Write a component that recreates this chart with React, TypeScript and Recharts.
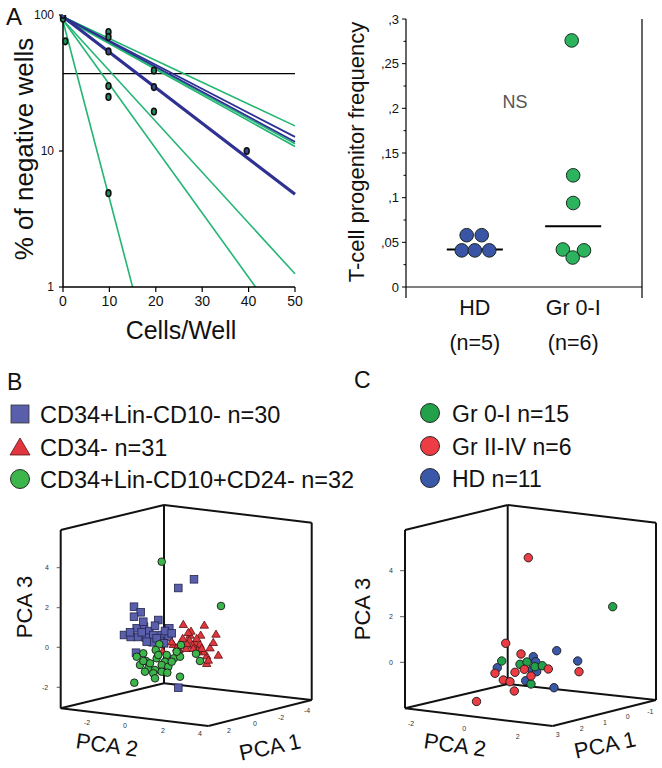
import { ComposedChart, Line, ReferenceLine, Scatter, XAxis, YAxis } from 'recharts';

const FONT = "'Liberation Sans', Arial, Helvetica, sans-serif";
const NARROW = "'Liberation Sans Narrow', 'Liberation Sans', Arial, sans-serif";

// ---- Panel A, limiting dilution (log scale) ----
const cellTicks = [0, 10, 20, 30, 40, 50];
const negTicks = [1, 10, 100];
const threshold = 37;
// fitted lines: [x0, y0, x1, y1]
const greenFits = [
  [0, 97, 50, 15.3],
  [0, 96, 50, 11.3],
  [0, 95, 50, 10.8],
  [0, 92, 50, 1.25],
  [0, 92, 41.5, 1],
  [0, 90, 15, 1],
];
const blueFits = [
  [0, 97, 50, 12.7],
  [0, 97, 50, 11.7],
];
const blueMainFit = [0, 97, 50, 4.8];
const greenWells = [[0, 97], [0, 94], [0.5, 64], [9.8, 75], [9.8, 69], [9.8, 30], [9.8, 25], [9.8, 4.9], [19.6, 39], [19.6, 19.5]];
const blueWells = [[0, 100], [9.8, 54], [19.6, 29.5], [39.6, 10]];

// ---- Panel A, progenitor frequency ----
const freqTicks = [0, 0.025, 0.05, 0.075, 0.1, 0.125, 0.15, 0.175, 0.2, 0.225, 0.25, 0.275, 0.3];
const groups = [
  { pos: 1, name: 'HD', n: '(n=5)' },
  { pos: 2, name: 'Gr 0-I', n: '(n=6)' },
];
const hdFreq = [0.041, 0.041, 0.041, 0.058, 0.058];
const hdJitter = [-0.133, 0, 0.147, -0.083, 0.07];
const grFreq = [0.276, 0.125, 0.094, 0.042, 0.041, 0.033];
const grJitter = [-0.015, 0, 0, -0.105, 0.11, -0.005];

// ---- Panel B, PCA (projected plane coordinates) ----
const boxB = { tl: [60.7, 530], tb: [164, 505], tr: [311.7, 522.7], bl: [60.7, 708.3], bb: [164, 683.3], br: [311.7, 700], fb: [208.3, 726] };
const pca3TicksB = [['4', 47, 567.7], ['2', 47, 607.7], ['0', 47, 647.3], ['-2', 45, 687.3]];
const pca2TicksB = [['-2', 87, 722], ['0', 125, 725.5], ['2', 163, 730], ['4', 200, 733.5]];
const pca1TicksB = [['2', 229, 730], ['0', 255, 723], ['-2', 281, 717], ['-4', 307, 710]];
const lin10Neg = [
  [194, 579.3], [178.3, 588], [134, 606.7], [140.7, 612.3], [134, 616.7], [158.3, 620], [136.7, 628.3], [144, 626.7],
  [149.3, 631], [169.3, 628.3], [124, 635], [130.7, 637], [138, 637], [146, 637.7], [153.3, 635], [161.7, 635],
  [168.7, 637], [160, 641], [152.7, 642.3], [136, 652.7], [178.3, 687.7], [165, 631], [141.7, 632.3], [130, 632.3],
  [156.7, 638.3], [146.7, 641.7], [164, 643.3], [171.7, 633.3], [143.3, 621.7], [155, 625.7],
];
const cd34Neg = [
  [183.3, 624.3], [204.3, 625], [216, 634], [190, 635], [200.7, 635], [173.3, 644.3], [181, 642.3], [189.3, 640],
  [195, 642.3], [200, 644.3], [210, 647.7], [218.3, 655], [206.7, 655.7], [203.3, 651.7], [206.7, 663.3], [179, 649.3],
  [186, 648.3], [192.7, 645], [176.7, 647.7], [162.7, 651], [197.7, 650], [186.7, 643.3], [182.7, 638.3], [191, 631],
  [196.7, 638.3], [201.7, 648.3], [208.3, 660], [188.3, 632.3], [171.7, 641.7], [193.3, 648.3], [213.3, 642.3],
];
const lin10Pos = [
  [161.7, 561.7], [221, 606], [159.3, 644.3], [143.3, 653.3], [155.7, 650], [136.7, 656.7], [146, 661], [156.7, 658.3],
  [166.7, 655], [165, 661.7], [174, 658.3], [180, 656.7], [196, 653.7], [200, 661], [140, 665], [148.3, 668.3],
  [155, 670], [161.7, 665], [168.3, 666.7], [145, 671.7], [153.3, 673.3], [161.7, 671.7], [167.3, 672.7], [134.3, 682.7],
  [180, 676.7], [155, 678.3], [171.7, 661.7], [150, 663.3], [176.7, 651.7], [158.3, 655], [181, 645], [143.3, 661],
];

// ---- Panel C, PCA by grade ----
const boxC = { tl: [405, 530], tb: [507.7, 505], tr: [656, 522.7], bl: [405, 708.3], bb: [507.7, 684], br: [656, 700], fb: [552.7, 726] };
const pca3TicksC = [['4', 391, 570.7], ['2', 391, 616.7], ['0', 391, 662.3]];
const pca2TicksC = [['-2', 411, 723.3], ['0', 464.3, 728.3], ['2', 517.7, 736]];
const pca1TicksC = [['3', 557.7, 734.3], ['2', 581.7, 728.3], ['1', 605, 722.7], ['0', 627.7, 716.7], ['-1', 650.3, 711]];
const hdPts = [[533.3, 656.7], [556.7, 650.7], [577.7, 661], [497.3, 667.7], [535.7, 661.7], [531.7, 670], [536.7, 671.7], [525.7, 680.7], [554, 687.7]];
const gr0Pts = [[612.7, 606.7], [501.7, 661], [520, 664.3], [535, 666.7], [542.3, 665.7], [531, 684], [527, 662]];
const gr2Pts = [
  [528.3, 557.7], [505.7, 643.3], [521, 654], [579, 671.7], [495, 673.3], [548.3, 669], [524.3, 669.3],
  [515, 672.3], [531, 676], [503.3, 680], [510, 681.7], [514.3, 691], [476.5, 701.5],
];

const BLUE = '#2e3192';
const GREEN = '#22b573';

const xy = (pts: number[][]) => pts.map(([x, y]) => ({ x, y }));
const fitData = (f: number[]) => [{ x: f[0], y: f[1] }, { x: f[2], y: f[3] }];
const median = (v: number[]) => {
  const s = [...v].sort((a, b) => a - b);
  const m = Math.floor(s.length / 2);
  return s.length % 2 ? s[m] : (s[m - 1] + s[m]) / 2;
};

function WellDot(props: any, fill: string) {
  const { cx, cy } = props;
  return <ellipse cx={cx} cy={cy} rx={2.4} ry={3.3} fill={fill} stroke="#111" strokeWidth={1.6} />;
}

function DilutionChart() {
  return (
    <ComposedChart width={330} height={312} margin={{ top: 15, right: 35, left: 0, bottom: 0 }}>
      <XAxis
        type="number"
        dataKey="x"
        domain={[0, 50]}
        ticks={cellTicks}
        interval={0}
        height={25}
        tickSize={5}
        tickMargin={4}
        axisLine={{ stroke: '#000', strokeWidth: 1.5 }}
        tickLine={{ stroke: '#000', strokeWidth: 1.2 }}
        tick={{ fontSize: 14, fill: '#111', fontFamily: NARROW }}
      />
      <YAxis
        type="number"
        dataKey="y"
        scale="log"
        domain={[1, 100]}
        ticks={negTicks}
        interval={0}
        allowDataOverflow
        width={63}
        tickSize={4}
        tickMargin={5}
        axisLine={{ stroke: '#000', strokeWidth: 1.5 }}
        tickLine={{ stroke: '#000', strokeWidth: 1.2 }}
        tick={{ fontSize: 12, fill: '#111', fontFamily: NARROW }}
      />
      <ReferenceLine y={threshold} stroke="#000" strokeWidth={1.2} />
      {greenFits.map((f, i) => (
        <Line key={'g' + i} data={fitData(f)} dataKey="y" stroke={GREEN} strokeWidth={1.6} dot={false} isAnimationActive={false} />
      ))}
      {blueFits.map((f, i) => (
        <Line key={'b' + i} data={fitData(f)} dataKey="y" stroke={BLUE} strokeWidth={1.8} dot={false} isAnimationActive={false} />
      ))}
      <Line data={fitData(blueMainFit)} dataKey="y" stroke={BLUE} strokeWidth={3.2} dot={false} isAnimationActive={false} />
      <Scatter data={xy(greenWells)} dataKey="y" shape={(p: any) => WellDot(p, '#1f8f5f')} isAnimationActive={false} />
      <Scatter data={xy(blueWells)} dataKey="y" shape={(p: any) => WellDot(p, '#34499a')} isAnimationActive={false} />
    </ComposedChart>
  );
}

function FreqTick(props: any) {
  const { x, y, payload } = props;
  const v = payload.value as number;
  const major = Math.abs(v * 20 - Math.round(v * 20)) < 1e-6;
  const label = v === 0 ? '0' : String(+v.toFixed(3)).replace(/^0\./, ',');
  return (
    <g>
      <line x1={x - (major ? 4 : 2.5)} x2={x} y1={y} y2={y} stroke="#000" strokeWidth={1} />
      {major && (
        <text x={x - 7} y={y} dy={4.5} textAnchor="end" fontSize={13} fontFamily={NARROW} fill="#111">
          {label}
        </text>
      )}
    </g>
  );
}

function GroupTick(props: any) {
  const { x, y, payload } = props;
  const g = groups.find((gr) => gr.pos === payload.value);
  if (!g) return <line x1={x} x2={x} y1={y} y2={y + 11} stroke="#000" strokeWidth={1.2} />;
  return (
    <g fill="#111" fontSize={21.5}>
      <text x={x} y={y + 28} textAnchor="middle">{g.name}</text>
      <text x={x} y={y + 63} textAnchor="middle">{g.n}</text>
    </g>
  );
}

function FreqDot(props: any, fill: string) {
  const { cx, cy } = props;
  return <circle cx={cx} cy={cy} r={6.8} fill={fill} stroke="#1b2a1f" strokeWidth={1} />;
}

function FrequencyChart() {
  const hd = hdFreq.map((y, i) => ({ x: 1 + hdJitter[i], y }));
  const gr = grFreq.map((y, i) => ({ x: 2 + grJitter[i], y }));
  const hdMed = median(hdFreq) + 0.001;
  const grMed = median(grFreq);
  const hw = 0.285;
  return (
    <ComposedChart width={332} height={360} margin={{ top: 19, right: 20, left: 0, bottom: 0 }}>
      <XAxis
        type="number"
        dataKey="x"
        domain={[0.3, 2.7]}
        ticks={[0.3, 1, 2, 2.7]}
        interval={0}
        height={73}
        tickSize={0}
        tickMargin={0}
        tickLine={false}
        axisLine={{ stroke: '#000', strokeWidth: 1.2 }}
        tick={GroupTick}
      />
      <YAxis
        type="number"
        dataKey="y"
        domain={[0, 0.3]}
        ticks={freqTicks}
        interval={0}
        width={76}
        tickSize={0}
        tickMargin={0}
        tickLine={false}
        axisLine={{ stroke: '#000', strokeWidth: 1.2 }}
        tick={FreqTick}
      />
      <ReferenceLine x={2.7} stroke="#000" strokeWidth={1.2} ifOverflow="visible" />
      <Scatter data={hd} dataKey="y" shape={(p: any) => FreqDot(p, '#3a55a5')} isAnimationActive={false} />
      <Scatter data={gr} dataKey="y" shape={(p: any) => FreqDot(p, '#2bb35e')} isAnimationActive={false} />
      <ReferenceLine segment={[{ x: 1 - hw, y: hdMed }, { x: 1 + hw, y: hdMed }]} stroke="#000" strokeWidth={2.2} />
      <ReferenceLine segment={[{ x: 2 - hw, y: grMed }, { x: 2 + hw, y: grMed }]} stroke="#000" strokeWidth={2.2} />
    </ComposedChart>
  );
}

type Box = Record<string, number[]>;
const edgePairs = [['bl', 'tl'], ['bb', 'tb'], ['br', 'tr'], ['tl', 'tb'], ['tb', 'tr'], ['bl', 'fb'], ['fb', 'br'], ['bl', 'bb'], ['bb', 'br']];

function tickLabel(props: any) {
  const { cx, cy, payload } = props;
  return (
    <text x={cx} y={cy} textAnchor="middle" dominantBaseline="central" fontSize={7} fill="#333">
      {payload.label}
    </text>
  );
}

const square = (p: any) => (
  <rect x={p.cx - 3.8} y={p.cy - 3.8} width={7.6} height={7.6} fill="#5a5fab" stroke="#23264f" strokeWidth={0.8} />
);
const triangle = (p: any) => (
  <polygon
    points={`${p.cx},${p.cy - 4} ${p.cx + 4.2},${p.cy + 3.2} ${p.cx - 4.2},${p.cy + 3.2}`}
    fill="#e2363e"
    stroke="#5a1414"
    strokeWidth={0.8}
  />
);
const roundDot = (fill: string, r: number) => (p: any) => (
  <circle cx={p.cx} cy={p.cy} r={r} fill={fill} stroke="#1a1a1a" strokeWidth={0.9} />
);

function PcaChart({ left, box, ticks, marks, edgeX, series }: any) {
  const labels = ticks.flat().map(([label, x, y]: any) => ({ label, x, y }));
  return (
    <ComposedChart width={331} height={278} margin={{ top: 0, right: 0, left: 0, bottom: 0 }}>
      <XAxis type="number" dataKey="x" domain={[left, left + 331]} hide allowDataOverflow />
      <YAxis type="number" dataKey="y" domain={[490, 768]} reversed hide allowDataOverflow />
      {edgePairs.map(([a, b]) => (
        <ReferenceLine
          key={a + b}
          segment={[{ x: (box as Box)[a][0], y: (box as Box)[a][1] }, { x: (box as Box)[b][0], y: (box as Box)[b][1] }]}
          stroke="#111"
          strokeWidth={2}
          ifOverflow="visible"
        />
      ))}
      {marks.map(([, , y]: any) => (
        <ReferenceLine key={'m' + y} segment={[{ x: edgeX - 4, y }, { x: edgeX, y }]} stroke="#333" strokeWidth={0.8} ifOverflow="visible" />
      ))}
      <Scatter data={labels} dataKey="y" shape={tickLabel} isAnimationActive={false} />
      {series.map((s: any, i: number) => (
        <Scatter key={i} data={xy(s.data)} dataKey="y" shape={s.shape} isAnimationActive={false} />
      ))}
    </ComposedChart>
  );
}

const legendB = [
  { label: 'CD34+Lin-CD10- n=30', kind: 'square' },
  { label: 'CD34- n=31', kind: 'triangle' },
  { label: 'CD34+Lin-CD10+CD24- n=32', kind: 'circle' },
];
const legendC = [
  { label: 'Gr 0-I n=15', color: '#23a04a' },
  { label: 'Gr II-IV n=6', color: '#ec3d44' },
  { label: 'HD n=11', color: '#3b58a8' },
];

function Overlay() {
  const rowsB = [414, 447, 479];
  const rowsC = [413, 446, 478];
  return (
    <svg width={662} height={768} style={{ position: 'absolute', left: 0, top: 0, pointerEvents: 'none' }} fontFamily={FONT} fill="#111">
      <text x={6} y={25} fontSize={24}>A</text>
      <text transform="translate(24,149) rotate(-90)" textAnchor="middle" dominantBaseline="central" fontSize={26}>
        % of negative wells
      </text>
      <text x={181} y={339} textAnchor="middle" fontSize={25}>Cells/Well</text>
      <text transform="translate(356,152) rotate(-90)" textAnchor="middle" dominantBaseline="central" fontSize={22}>
        T-cell progenitor frequency
      </text>
      <text x={515} y={108} textAnchor="middle" fontSize={18} fill="#555">NS</text>

      <text x={7} y={390} fontSize={23}>B</text>
      {legendB.map((l, i) => {
        const cy = rowsB[i];
        return (
          <g key={l.label}>
            {l.kind === 'square' && <rect x={11} y={cy - 9} width={18} height={18} fill="#5a5fab" stroke="#333" strokeWidth={0.8} />}
            {l.kind === 'triangle' && (
              <polygon points={`20,${cy - 9} 30,${cy + 8} 10,${cy + 8}`} fill="#e2363e" stroke="#5a1414" strokeWidth={0.8} />
            )}
            {l.kind === 'circle' && <circle cx={20} cy={cy} r={9.5} fill="#3cb54a" stroke="#1a1a1a" strokeWidth={0.9} />}
            <text x={40} y={cy + 9} fontSize={23.5}>{l.label}</text>
          </g>
        );
      })}

      <text x={354} y={388} fontSize={23}>C</text>
      {legendC.map((l, i) => {
        const cy = rowsC[i];
        return (
          <g key={l.label}>
            <circle cx={430} cy={cy} r={9.5} fill={l.color} stroke="#1a1a1a" strokeWidth={0.9} />
            <text x={452} y={cy + 9} fontSize={23}>{l.label}</text>
          </g>
        );
      })}

      <text transform="translate(24,607) rotate(-90)" textAnchor="middle" dominantBaseline="central" fontSize={22}>PCA 3</text>
      <text transform="translate(107,745) rotate(8)" textAnchor="middle" dominantBaseline="central" fontSize={22}>PCA 2</text>
      <text transform="translate(270,747) rotate(-12)" textAnchor="middle" dominantBaseline="central" fontSize={22}>PCA 1</text>
      <text transform="translate(362,609) rotate(-90)" textAnchor="middle" dominantBaseline="central" fontSize={22}>PCA 3</text>
      <text transform="translate(455,745) rotate(8)" textAnchor="middle" dominantBaseline="central" fontSize={22}>PCA 2</text>
      <text transform="translate(605,745) rotate(-12)" textAnchor="middle" dominantBaseline="central" fontSize={22}>PCA 1</text>
    </svg>
  );
}

export default function App() {
  return (
    <div style={{ position: 'absolute', left: 0, top: 0, width: 662, height: 768, background: '#fff', overflow: 'hidden', fontFamily: FONT }}>
      <div style={{ position: 'absolute', left: 0, top: 0 }}>
        <DilutionChart />
      </div>
      <div style={{ position: 'absolute', left: 330, top: 0 }}>
        <FrequencyChart />
      </div>
      <div style={{ position: 'absolute', left: 0, top: 490 }}>
        <PcaChart
          left={0}
          box={boxB}
          ticks={[pca3TicksB, pca2TicksB, pca1TicksB]}
          marks={pca3TicksB}
          edgeX={60.7}
          series={[
            { data: lin10Neg, shape: square },
            { data: cd34Neg, shape: triangle },
            { data: lin10Pos, shape: roundDot('#3cb54a', 3.8) },
          ]}
        />
      </div>
      <div style={{ position: 'absolute', left: 331, top: 490 }}>
        <PcaChart
          left={331}
          box={boxC}
          ticks={[pca3TicksC, pca2TicksC, pca1TicksC]}
          marks={pca3TicksC}
          edgeX={404}
          series={[
            { data: hdPts, shape: roundDot('#3b58a8', 4.2) },
            { data: gr0Pts, shape: roundDot('#23a04a', 4.2) },
            { data: gr2Pts, shape: roundDot('#ec3d44', 4.2) },
          ]}
        />
      </div>
      <Overlay />
    </div>
  );
}
